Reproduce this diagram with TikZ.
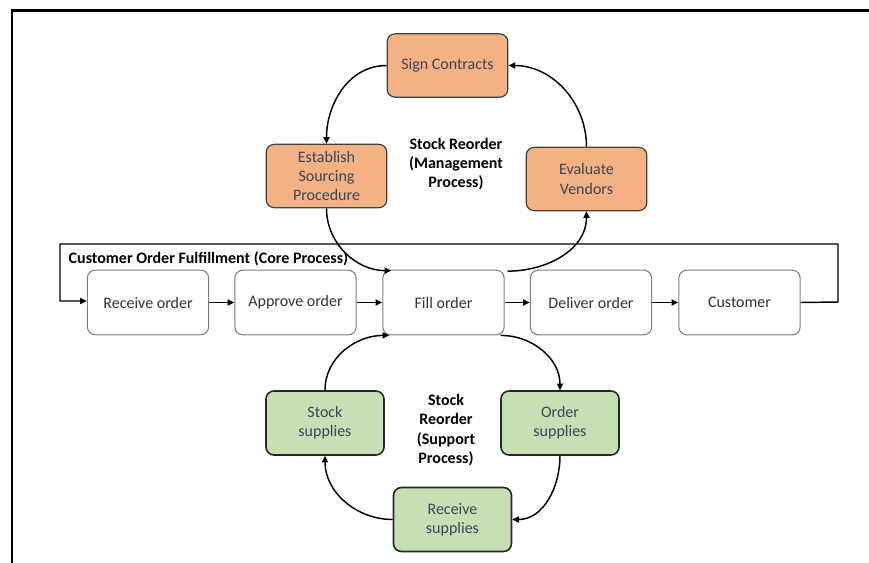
\documentclass[tikz,border=0pt]{standalone}
\usepackage{fontspec}
\setmainfont{Carlito}
\usetikzlibrary{arrows.meta,calc}

\definecolor{mgmtfill}{HTML}{F4B183}
\definecolor{suppfill}{HTML}{C5E0B4}
\definecolor{coreline}{HTML}{7F7F7F}
\definecolor{coretext}{HTML}{333333}
\definecolor{cycletext}{HTML}{3A4658}

\tikzset{
  basebox/.style={rectangle, rounded corners=6pt, align=center,
    font=\fontsize{12}{14.4}\selectfont, inner sep=0pt},
  corebox/.style={basebox, draw=coreline, line width=0.8pt, fill=white,
    text=coretext, minimum width=91pt, minimum height=48.5pt},
  mgmtbox/.style={basebox, draw=black!75, line width=0.9pt, fill=mgmtfill,
    text=cycletext, minimum width=90.5pt, minimum height=47.5pt},
  suppbox/.style={basebox, draw=black!85, line width=1.2pt, fill=suppfill,
    text=cycletext, minimum width=88.5pt, minimum height=48pt},
  caption/.style={align=center, font=\fontsize{12}{14.4}\selectfont\bfseries},
  flow/.style={line width=1.1pt, -{Triangle[length=5pt,width=4.6pt]}},
}

\begin{document}
\begin{tikzpicture}[x=0.75pt, y=-0.75pt]
  \useasboundingbox (0,0) rectangle (869,562);

  % outer frame (runs off the right and bottom edges)
  \draw[line width=1.6pt] (12,580) -- (12,10.5) -- (890,10.5);

  % management cycle
  \node[mgmtbox] (sign) at (447.5,65.5) {Sign Contracts};
  \node[mgmtbox] (estab) at (326.5,176) {Establish\\Sourcing\\Procedure};
  \node[mgmtbox] (evalv) at (586.5,179) {Evaluate\\Vendors};
  \node[caption] (mgmtlbl) at (456,164) {Stock Reorder\\(Management\\Process)};

  % core process row
  \node[corebox] (recv) at (148,302.5) {Receive order};
  \node[corebox] (appr) at (295.5,302.5) {Approve order};
  \node[corebox] (fill) at (443.5,302.5) {Fill order};
  \node[corebox] (deliv) at (591,302.5) {Deliver order};
  \node[corebox] (cust) at (739.5,302.5) {Customer};
  \node[caption, anchor=west] (corelbl) at (64,259) {Customer Order Fulfillment (Core Process)};

  % support cycle
  \node[suppbox] (stock) at (325,423) {Stock\\supplies};
  \node[suppbox] (ordsup) at (560,423) {Order\\supplies};
  \node[suppbox] (rcvsup) at (452.5,519.5) {Receive\\supplies};
  \node[caption] (supplbl) at (446,430) {Stock\\Reorder\\(Support\\Process)};

  % core flow
  \draw[flow] (recv) -- (appr);
  \draw[flow] (appr) -- (fill);
  \draw[flow] (fill) -- (deliv);
  \draw[flow] (deliv) -- (cust);
  \coordinate (loopA) at (838,302);
  \coordinate (loopB) at (838,244);
  \coordinate (loopC) at (60,244);
  \coordinate (loopD) at (60,301);
  \draw[line width=1.1pt, -{Triangle[length=5pt,width=4.6pt]}]
    (cust.east) -- (loopA) -- (loopB) -- (loopC) -- (loopD) -- (recv.west |- loopD);

  % management loop
  \draw[flow] (sign.west) to[out=180,in=90] (estab.north);
  \draw[flow] (estab.south) to[out=-90,in=180] ($(fill.north west)+(9,1)$);
  \draw[flow] ($(fill.north east)+(3,1.5)$) to[out=0,in=-90] (evalv.south);
  \draw[flow] (evalv.north) to[out=90,in=0] (sign.east);

  % support loop
  \draw[flow] (stock.north) to[out=90,in=180] ($(fill.south west)+(7,0)$);
  \draw[flow] ($(fill.south east)+(-4,0)$) to[out=0,in=90] (ordsup.north);
  \draw[flow] (ordsup.south) to[out=-90,in=0] (rcvsup.east);
  \draw[flow] (rcvsup.west) to[out=180,in=-90] (stock.south);
\end{tikzpicture}
\end{document}
